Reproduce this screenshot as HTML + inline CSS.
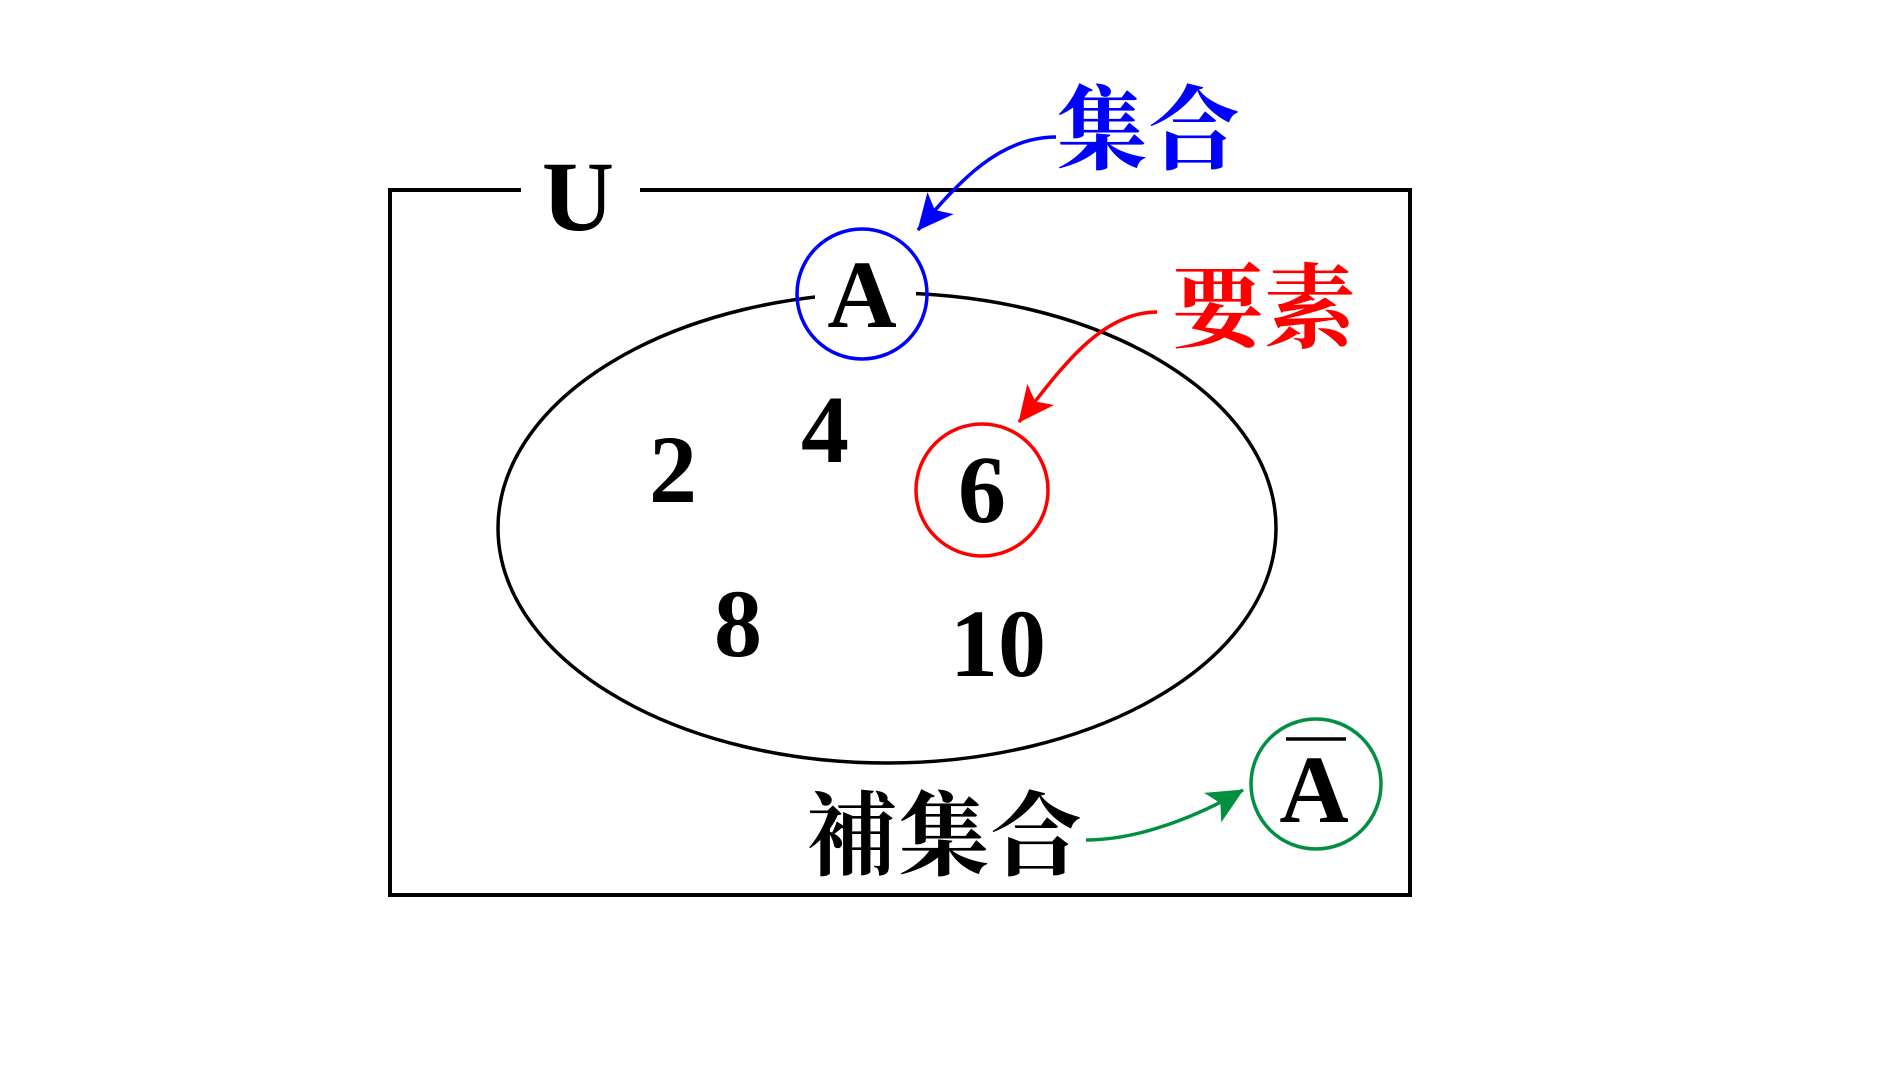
<!DOCTYPE html>
<html><head><meta charset="utf-8"><style>
html,body{margin:0;padding:0;background:#fff;}
svg{display:block;}
.n{font-family:"Liberation Serif",serif;font-weight:bold;}
.c{font-family:"Liberation Serif","Noto Serif CJK SC","Noto Serif CJK JP",serif;font-weight:bold;}
</style></head><body>
<svg width="1896" height="1084" viewBox="0 0 1896 1084" xmlns="http://www.w3.org/2000/svg">
<defs>
<marker id="mb" viewBox="0 0 10 10" refX="9" refY="5" markerWidth="9" markerHeight="9" markerUnits="userSpaceOnUse" orient="auto" overflow="visible"><path d="M-30,-14 L10,5 L-30,24 L-20,5 Z" fill="#0000ff"/></marker>
<marker id="mr" viewBox="0 0 10 10" refX="9" refY="5" markerWidth="9" markerHeight="9" markerUnits="userSpaceOnUse" orient="auto" overflow="visible"><path d="M-30,-14 L10,5 L-30,24 L-20,5 Z" fill="#ff0000"/></marker>
<marker id="mg" viewBox="0 0 10 10" refX="9" refY="5" markerWidth="9" markerHeight="9" markerUnits="userSpaceOnUse" orient="auto" overflow="visible"><path d="M-30,-14 L10,5 L-30,24 L-20,5 Z" fill="#009040"/></marker>
</defs>
<path d="M521,190 L390,190 L390,895 L1410,895 L1410,190 L640,190" fill="none" stroke="#000" stroke-width="4"/>
<text x="578" y="230" text-anchor="middle" class="n" font-size="100">U</text>
<ellipse cx="887" cy="528" rx="389" ry="235" fill="none" stroke="#000" stroke-width="3.5"/>
<rect x="815" y="280" width="101" height="30" fill="#fff"/>
<circle cx="862" cy="294" r="65" fill="none" stroke="#0000ff" stroke-width="3.5"/>
<text x="862" y="327" text-anchor="middle" class="n" font-size="96">A</text>
<text x="1056" y="162" class="c" font-size="92" fill="#0000ff">集合</text>
<path d="M1056,137 C1000,137 960,180 918,230" fill="none" stroke="#0000ff" stroke-width="3.5" marker-end="url(#mb)"/>
<text x="1172" y="340" class="c" font-size="92" fill="#ff0000">要素</text>
<path d="M1157,312 C1100,312 1060,370 1019,422" fill="none" stroke="#ff0000" stroke-width="3.5" marker-end="url(#mr)"/>
<circle cx="982" cy="490" r="66" fill="none" stroke="#ff0000" stroke-width="3.5"/>
<text x="982" y="522" text-anchor="middle" class="n" font-size="96">6</text>
<text x="673" y="502" text-anchor="middle" class="n" font-size="96">2</text>
<text x="825" y="462" text-anchor="middle" class="n" font-size="96">4</text>
<text x="738" y="656" text-anchor="middle" class="n" font-size="96">8</text>
<text x="998" y="676" text-anchor="middle" class="n" font-size="96">10</text>
<circle cx="1316" cy="784" r="65" fill="none" stroke="#009040" stroke-width="3.5"/>
<line x1="1286" y1="739" x2="1346" y2="739" stroke="#000" stroke-width="3.5"/>
<text x="1314" y="822" text-anchor="middle" class="n" font-size="96">A</text>
<text x="806" y="868" class="c" font-size="92" fill="#000">補集合</text>
<path d="M1086,840 C1140,840 1200,815 1243,790" fill="none" stroke="#009040" stroke-width="3.5" marker-end="url(#mg)"/>
</svg>
</body></html>
